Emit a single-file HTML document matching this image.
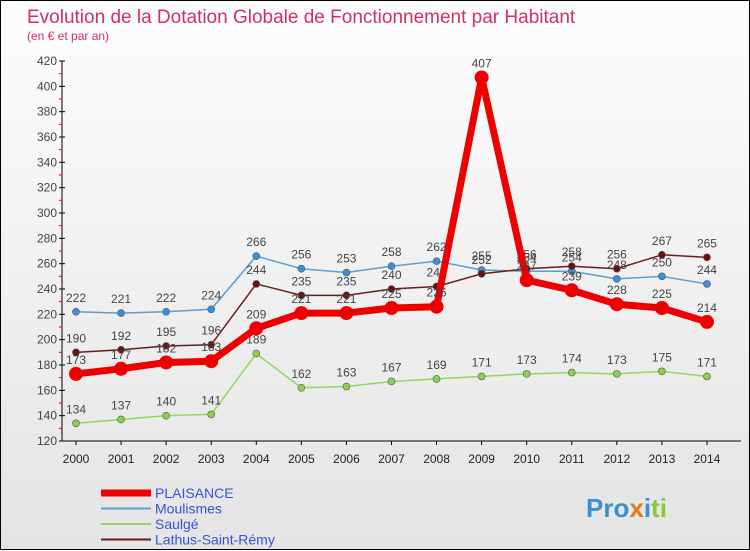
<!DOCTYPE html>
<html><head><meta charset="utf-8"><style>
body{margin:0;width:750px;height:550px;overflow:hidden;font-family:"Liberation Sans",sans-serif}
#c{position:absolute;left:0;top:0;width:750px;height:550px;background:linear-gradient(#fdfdfd,#e4e4e4);border:1px solid #000;box-sizing:border-box}
</style></head><body>
<div id="c">
<svg id="s" width="750" height="550" style="position:absolute;left:0;top:0">
<text x="26" y="22" font-size="19" fill="#d0306a">Evolution de la Dotation Globale de Fonctionnement par Habitant</text>
<text x="26" y="39" font-size="12" fill="#d0306a">(en € et par an)</text>
<g id="ax"></g><g id="series"></g><g id="legend"></g>
<text x="585" y="516" font-size="26" font-weight="bold" fill="#3a8fd0">Pro<tspan fill="#e07a1a">x</tspan><tspan fill="#3a8fd0">i</tspan><tspan fill="#8cc63f">ti</tspan></text>
</svg></div>
<script>
const years=[2000,2001,2002,2003,2004,2005,2006,2007,2008,2009,2010,2011,2012,2013,2014];
const plaisance=[173,177,182,183,209,221,221,225,226,407,247,239,228,225,214];
const moulismes=[222,221,222,224,266,256,253,258,262,255,254,254,248,250,244];
const saulge=[134,137,140,141,189,162,163,167,169,171,173,174,173,175,171];
const lathus=[190,192,195,196,244,235,235,240,242,252,256,258,256,267,265];
const yTicks=[120,140,160,180,200,220,240,260,280,300,320,340,360,380,400,420];
const NS="http://www.w3.org/2000/svg";
const X=i=>75+i*45.07, Y=v=>440-(v-120)*380/300;
function el(t,a,p){const e=document.createElementNS(NS,t);for(const k in a)e.setAttribute(k,a[k]);p.appendChild(e);return e;}
const ax=document.getElementById('ax');
let l=el('line',{x1:61,y1:Y(420),x2:61,y2:Y(120),stroke:'#000'},ax);


l=el('line',{x1:61,y1:Y(120),x2:740,y2:Y(120),stroke:'#000'},ax);


yTicks.forEach(v=>{
  el('line',{x1:58,y1:Y(v),x2:64,y2:Y(v),stroke:'#000'},ax);
  if(v<420)el('line',{x1:58,y1:Y(v+10),x2:61,y2:Y(v+10),stroke:'#e00'},ax);
  const t=el('text',{x:56,y:Y(v)+4,'font-size':12,fill:'#444','text-anchor':'end'},ax);t.textContent=v;
  
  
});
years.forEach((y,i)=>{
  el('line',{x1:X(i),y1:440,x2:X(i),y2:444,stroke:'#000'},ax);
  const t=el('text',{x:X(i),y:462,'font-size':12,fill:'#222','text-anchor':'middle'},ax);t.textContent=y;
  
  
});
const sg=document.getElementById('series');
function draw(d,col,w,r,name,mk){
  const g=el('g',{},sg);
  
  
  el('polyline',{points:d.map((v,i)=>X(i)+','+Y(v)).join(' '),fill:'none',stroke:col,'stroke-width':w,'stroke-linejoin':'round'},g);
  d.forEach((v,i)=>{
    const c=el('circle',{cx:X(i),cy:Y(v),r:r,fill:mk,stroke:'#555','stroke-width':r>4?0:0.6},g);
    
    
    const t=el('text',{x:X(i),y:Y(v)-10,'font-size':12,fill:'#444','text-anchor':'middle'},g);t.textContent=v;
    
    
  });
}
draw(saulge,'#90d860',1.5,3.5,'saulge','#8cd050');
draw(moulismes,'#5a9fd4',1.5,3.5,'moulismes','#3a8fd8');
draw(lathus,'#6b1c1c',1.5,3.5,'lathus','#6b1010');
draw(plaisance,'#ee0000',7,7,'plaisance','#ee0000');
const lg=document.getElementById('legend');
[['PLAISANCE','#ee0000',7],['Moulismes','#5a9fd4',2],['Saulgé','#90d860',2],['Lathus-Saint-Rémy','#6b1c1c',2]].forEach((e,i)=>{
  const y=492+i*15.5;
  const g=el('g',{},lg);
  
  
  el('line',{x1:100,y1:y,x2:150,y2:y,stroke:e[1],'stroke-width':e[2]},g);
  const t=el('text',{x:154,y:y+5,'font-size':14,fill:'#3355dd'},g);t.textContent=e[0];
});
</script></body></html>
